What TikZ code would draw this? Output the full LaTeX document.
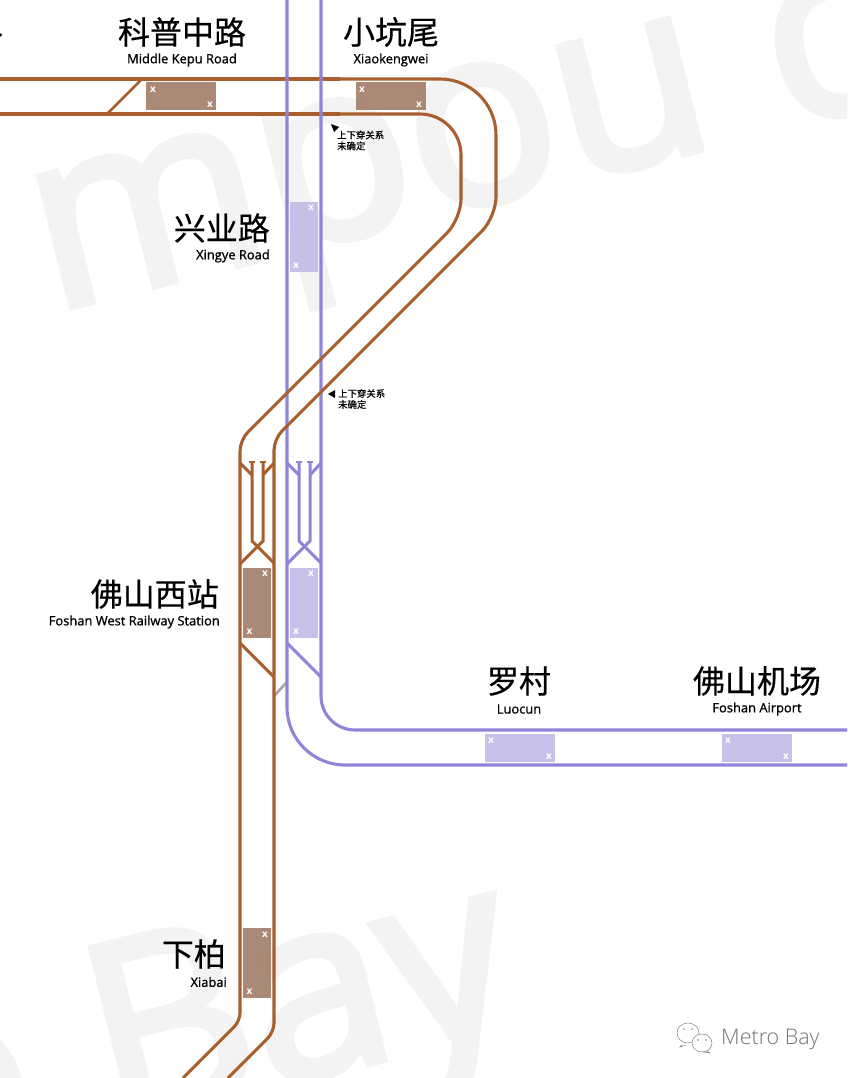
\documentclass[tikz,border=0pt]{standalone}
\usepackage{fontspec}
\usepackage{tikz}
\usepackage{xcolor}
\setmainfont{Open Sans}
\newfontfamily\cjk[FakeBold=0.4]{Noto Sans CJK SC}
\newfontfamily\latinname[FakeBold=1.1]{Open Sans}
\newfontfamily\markfont[FakeBold=3]{Open Sans}
\definecolor{trackbrown}{HTML}{A85F2D}
\definecolor{trackpurple}{HTML}{8F85D8}
\definecolor{boxbrown}{HTML}{A58370}
\definecolor{boxpurple}{HTML}{C2BCE8}
\definecolor{markgray}{HTML}{F3F3F3}

\begin{document}
\begin{tikzpicture}[x=1pt, y=-1pt,
    brownline/.style={draw=trackbrown, line width=3.1pt},
    purpleline/.style={draw=trackpurple, line width=3.1pt},
    brownbox/.style={fill=boxbrown, fill opacity=0.95, inner sep=0pt},
    purplebox/.style={fill=boxpurple, fill opacity=0.92, inner sep=0pt},
    hbox/.style={minimum width=70pt, minimum height=28pt},
    vbox/.style={minimum width=28pt, minimum height=70pt},
    xmark/.style={text=white, font=\fontsize{10}{10}\selectfont\bfseries, inner sep=0pt},
    zhname/.style={font=\fontsize{32}{32}\cjk, inner sep=0pt},
    enname/.style={font=\fontsize{12.9}{12.9}\latinname, inner sep=0pt},
    noteline/.style={font=\fontsize{9.4}{11}\cjk, inner sep=0pt, align=left, anchor=west},
    watermark/.style={text=markgray, font=\fontsize{250}{250}\markfont, inner sep=0pt, rotate=14}]
  \useasboundingbox (0,0) rectangle (847,1078);
  \begin{scope}
    \clip (0,0) rectangle (847,1078);
    % Watermark
    \node[watermark, anchor=base east] (markTop) at (900,100) {mpou c};
    \node[watermark, anchor=base east] (markBottom) at (526,1024) {o Bay};
    % Top left of the previous station
    \node[zhname] (prevZh) at (-13,32) {路};
  \end{scope}

  % Brown tracks under the purple ones
  \draw[brownline] (0,79) -- (340,79);
  \draw[brownline] (0,114) -- (340,114);
  \draw[brownline, line width=2.7pt] (107,114) -- (142,79);
  % Link between the lines
  \draw[gray!70, line width=2.7pt] (275,695) -- (286,683);

  % Purple tracks
  \draw[purpleline, rounded corners=58pt] (287,0) -- (287,765) -- (847,765);
  \draw[purpleline, rounded corners=34pt] (321,0) -- (321,730) -- (847,730);

  % Brown tracks over the purple ones
  \draw[brownline] (330,79) [rounded corners=56pt] -- (496,79) [rounded corners=20pt] -- (496,217)
    [rounded corners=11pt] -- (274,439) [rounded corners=9pt] -- (274,1032) -- (228,1078);
  \draw[brownline] (330,114) [rounded corners=41pt] -- (461,114) [rounded corners=20pt] -- (461,219)
    [rounded corners=11pt] -- (240,440) [rounded corners=8pt] -- (240,1021) -- (183,1078);

  % Sidings at the Foshan West station
  \foreach \dx/\trk in {0/brownline, 47/purpleline} {
    \begin{scope}[xshift=\dx]
      \draw[\trk, line width=3pt] (252,462) -- (252,541) -- (274,563);
      \draw[\trk, line width=3pt] (263,462) -- (263,541) -- (240,564);
      \draw[\trk, line width=2.2pt] (249,462) -- (255,462);
      \draw[\trk, line width=2.2pt] (260,462) -- (266,462);
      \draw[\trk, line width=3pt] (240,463) -- (252,475);
      \draw[\trk, line width=3pt] (274,463) -- (263,475);
      \draw[\trk, line width=3pt] (240,643) -- (274,677);
    \end{scope}
  }

  % Platforms
  \node[brownbox, hbox] (kepuBox) at (181,96.5) {};
  \node[xmark] (kepuA) at (153,90) {x};
  \node[xmark] (kepuB) at (210,105) {x};
  \node[brownbox, hbox] (kengBox) at (391,96.5) {};
  \node[xmark] (kengA) at (362,90) {x};
  \node[xmark] (kengB) at (419,105) {x};
  \node[purplebox, vbox] (xingBox) at (304,237) {};
  \node[xmark] (xingA) at (311,208) {x};
  \node[xmark] (xingB) at (296,266) {x};
  \node[brownbox, vbox] (fsBrownBox) at (257,603) {};
  \node[xmark] (fsBrownA) at (265,574) {x};
  \node[xmark] (fsBrownB) at (249.5,632) {x};
  \node[purplebox, vbox] (fsPurpleBox) at (304,603) {};
  \node[xmark] (fsPurpleA) at (311,574) {x};
  \node[xmark] (fsPurpleB) at (296,632) {x};
  \node[purplebox, hbox] (luoBox) at (520,748) {};
  \node[xmark] (luoA) at (491,741) {x};
  \node[xmark] (luoB) at (549,757) {x};
  \node[purplebox, hbox] (airBox) at (757,748) {};
  \node[xmark] (airA) at (728,741) {x};
  \node[xmark] (airB) at (786,757) {x};
  \node[brownbox, vbox] (xiaBox) at (257,963) {};
  \node[xmark] (xiaA) at (265,935) {x};
  \node[xmark] (xiaB) at (249.5,992) {x};

  % Station names
  \node[zhname] (kepuZh) at (182,32) {科普中路};
  \node[enname] (kepuEn) at (182,60) {Middle Kepu Road};
  \node[zhname] (kengZh) at (391,32) {小坑尾};
  \node[enname] (kengEn) at (391,60) {Xiaokengwei};
  \node[zhname, anchor=east] (xingZh) at (270,228) {兴业路};
  \node[enname, anchor=east] (xingEn) at (270,256) {Xingye Road};
  \node[zhname, anchor=east] (fsZh) at (219,594) {佛山西站};
  \node[enname, anchor=east] (fsEn) at (220,622) {Foshan West Railway Station};
  \node[zhname] (luoZh) at (519,681) {罗村};
  \node[enname] (luoEn) at (519,709) {Luocun};
  \node[zhname] (airZh) at (757,681) {佛山机场};
  \node[enname] (airEn) at (757,709) {Foshan Airport};
  \node[zhname, anchor=east] (xiaZh) at (226,954) {下柏};
  \node[enname, anchor=east] (xiaEn) at (227,982) {Xiabai};

  % Notes
  \fill (331,124) -- (339,127) -- (334,132) -- cycle;
  \node[noteline] (noteTop) at (337,140.5) {上下穿关系\\未确定};
  \fill (328,394) -- (335,390) -- (335,398) -- cycle;
  \node[noteline] (noteMid) at (338,399) {上下穿关系\\未确定};

  % Logo
  \draw[gray, line width=0.5pt, fill=white] (682,1045) -- (680,1047) -- (686,1045) (688,1033) circle[x radius=11, y radius=10];
  \draw[gray, line width=0.5pt, fill=white] (702,1043) circle[x radius=10, y radius=9];
  \draw[gray, line width=0.5pt] (707,1051) -- (710,1053) -- (703,1052);
  \fill[gray] (684,1029) circle[radius=0.9] (692,1029) circle[radius=0.9] (698,1040) circle[radius=0.9] (706,1040) circle[radius=0.9];
  \node[text=gray!90!black, font=\fontsize{21.5}{21.5}\selectfont\fontspec{Open Sans Light}, inner sep=0pt, anchor=west] (logoText) at (721,1039) {Metro Bay};
\end{tikzpicture}
\end{document}
